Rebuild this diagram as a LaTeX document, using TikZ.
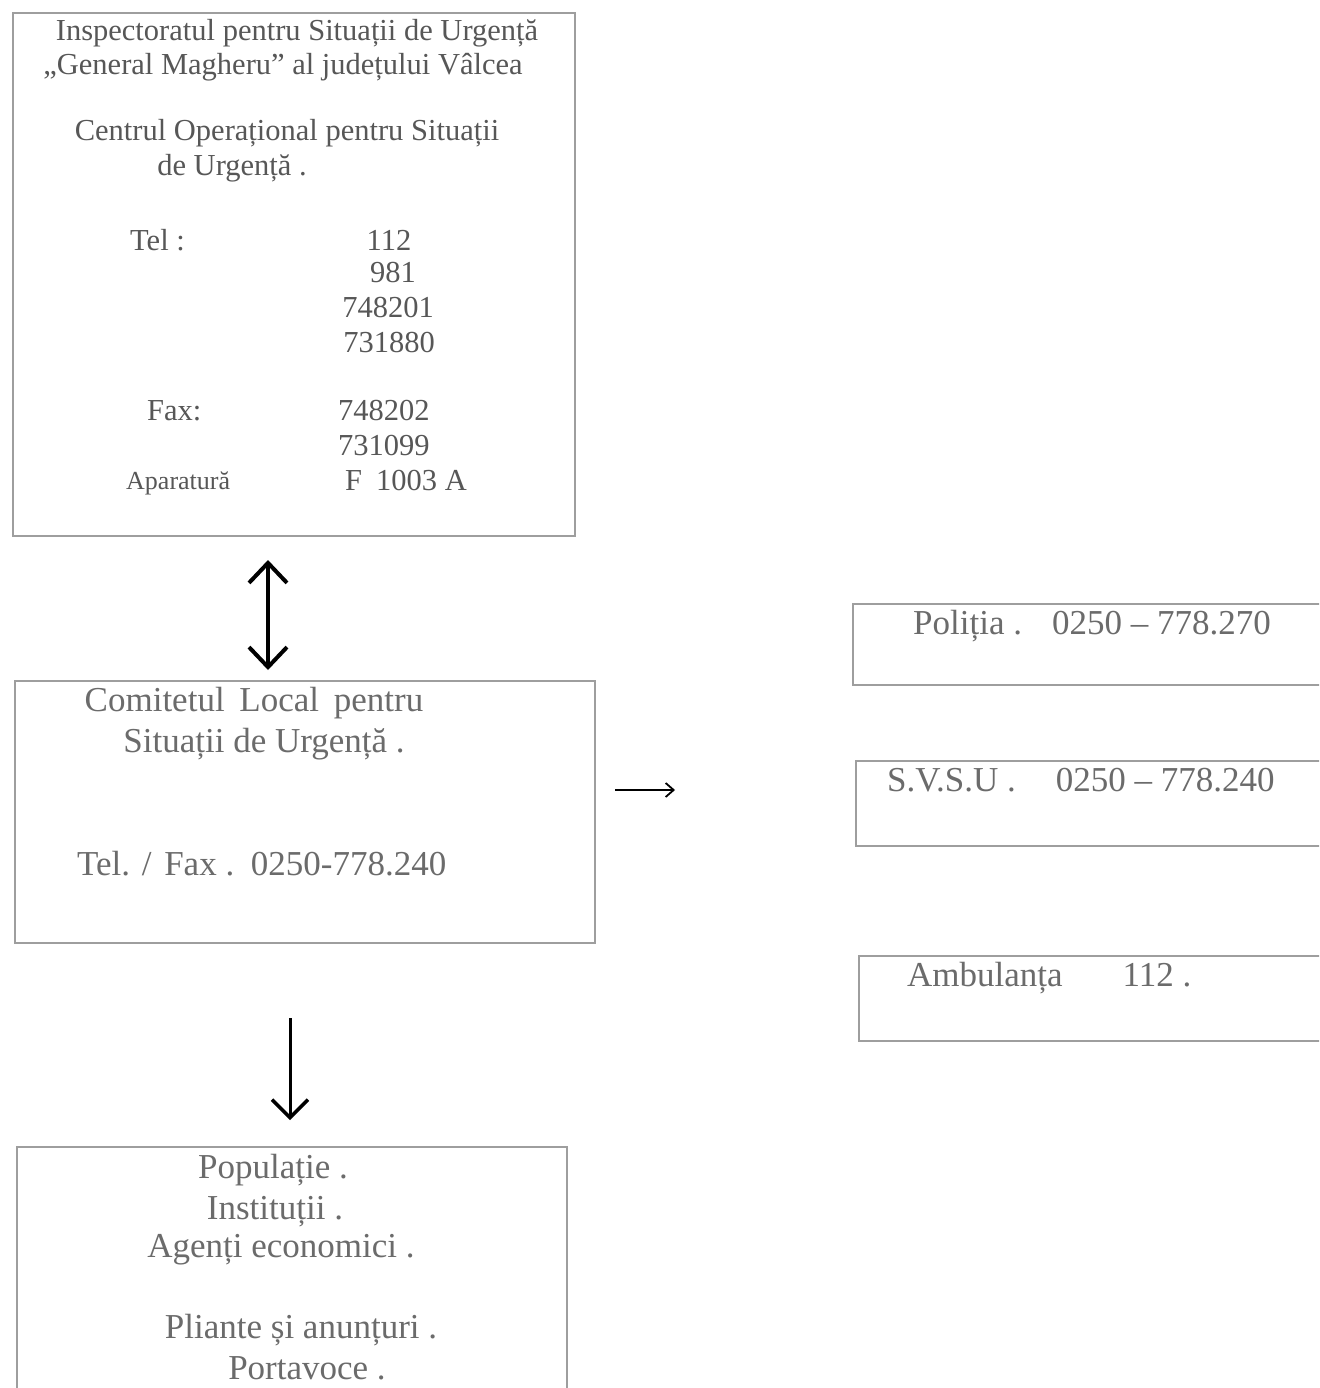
\documentclass[tikz,border=0pt]{standalone}
\usepackage{fontspec}
\setmainfont{Liberation Serif}
\usetikzlibrary{arrows.meta}
\tikzset{
  bigbarb/.tip={Straight Barb[length=20pt,width=38pt,line width=4pt]},
  smallbarb/.tip={Straight Barb[length=8pt,width=14pt,line width=1.8pt]},
  downbarb/.tip={Straight Barb[length=18pt,width=36pt,line width=3.5pt]},
}
\begin{document}
\begin{tikzpicture}[x=1pt,y=-1pt,
  box/.style={draw=black!38, line width=1.8pt, inner sep=0pt, anchor=north west},
  txt/.style={text=black!66, inner sep=0pt, font=\fontsize{30.5}{34}\selectfont},
  small/.style={txt, font=\fontsize{26}{30}\selectfont},
  big/.style={txt, text=black!58, font=\fontsize{35}{40}\selectfont},
]
\useasboundingbox (0,0) rectangle (1319,1388);
\clip (0,0) rectangle (1319,1388);
\fill[white] (0,0) rectangle (1319,1388);
% boxes
\node[box, minimum width=562pt, minimum height=523pt] (b1) at (12,12) {};
\node[box, minimum width=580pt, minimum height=262pt] (b2) at (14,680) {};
\node[box, minimum width=500pt, minimum height=81pt] (pol) at (852,603) {};
\node[box, minimum width=500pt, minimum height=85pt] (svsu) at (855,760) {};
\node[box, minimum width=500pt, minimum height=85pt] (amb) at (858,955) {};
\node[box, minimum width=550pt, minimum height=290pt] (b3) at (16,1146) {};
% box 1 texts
\node[txt] (t1) at (297,33) {Inspectoratul pentru Situații de Urgență};
\node[txt] (t2) at (283,67) {„General Magheru” al județului Vâlcea};
\node[txt] (t3) at (287,133) {Centrul Operațional pentru Situații};
\node[txt] (t4) at (232,168) {de Urgență .};
\node[txt, anchor=west] (tel) at (130,240) {Tel :};
\node[txt] (n1) at (389,240) {112};
\node[txt] (n2) at (393,273) {981};
\node[txt] (n3) at (388,308) {748201};
\node[txt] (n4) at (389,343) {731880};
\node[txt, anchor=west] (fax) at (147,411) {Fax:};
\node[txt, anchor=west] (f1) at (338,411) {748202};
\node[txt, anchor=west] (f2) at (338,446) {731099};
\node[small, anchor=west] (ap) at (126,483) {Aparatură};
\node[txt, anchor=west] (apn) at (345,481) {F\hspace{14pt}1003 A};
% box 2 texts
\node[big] (c1) at (254,703) {Comitetul\hspace{6pt} Local\hspace{6pt} pentru};
\node[big] (c2) at (264,744) {Situații de Urgență .};
\node[big, anchor=west] (c3) at (77,864) {Tel. /\hspace{4pt} Fax .\hspace{5pt} 0250-778.240};
% right boxes
\node[big, anchor=west] (p1) at (913,626) {Poliția .\hspace{30pt}0250 – 778.270};
\node[big, anchor=west] (s1) at (887,780) {S.V.S.U .\hspace{40pt}0250 – 778.240};
\node[big, anchor=west] (a1) at (907,978) {Ambulanța\hspace{60pt}112 .};
% bottom box
\node[big] (q1) at (273,1170) {Populație .};
\node[big] (q2) at (275,1212) {Instituții .};
\node[big] (q3) at (281,1250) {Agenți economici .};
\node[big] (q4) at (301,1330) {Pliante și anunțuri .};
\node[big] (q5) at (307,1368) {Portavoce .};
% connectors
\coordinate (d1a) at (268,560);
\coordinate (d1b) at (268,670);
\draw[line width=4pt, bigbarb-bigbarb] (d1a) -- (d1b);
\coordinate (h1a) at (615,790);
\coordinate (h1b) at (675,790);
\draw[line width=1.8pt, -smallbarb] (h1a) -- (h1b);
\coordinate (d2a) at (290,1018);
\coordinate (d2b) at (290,1120);
\draw[line width=3pt, -downbarb] (d2a) -- (d2b);
\end{tikzpicture}
\end{document}
